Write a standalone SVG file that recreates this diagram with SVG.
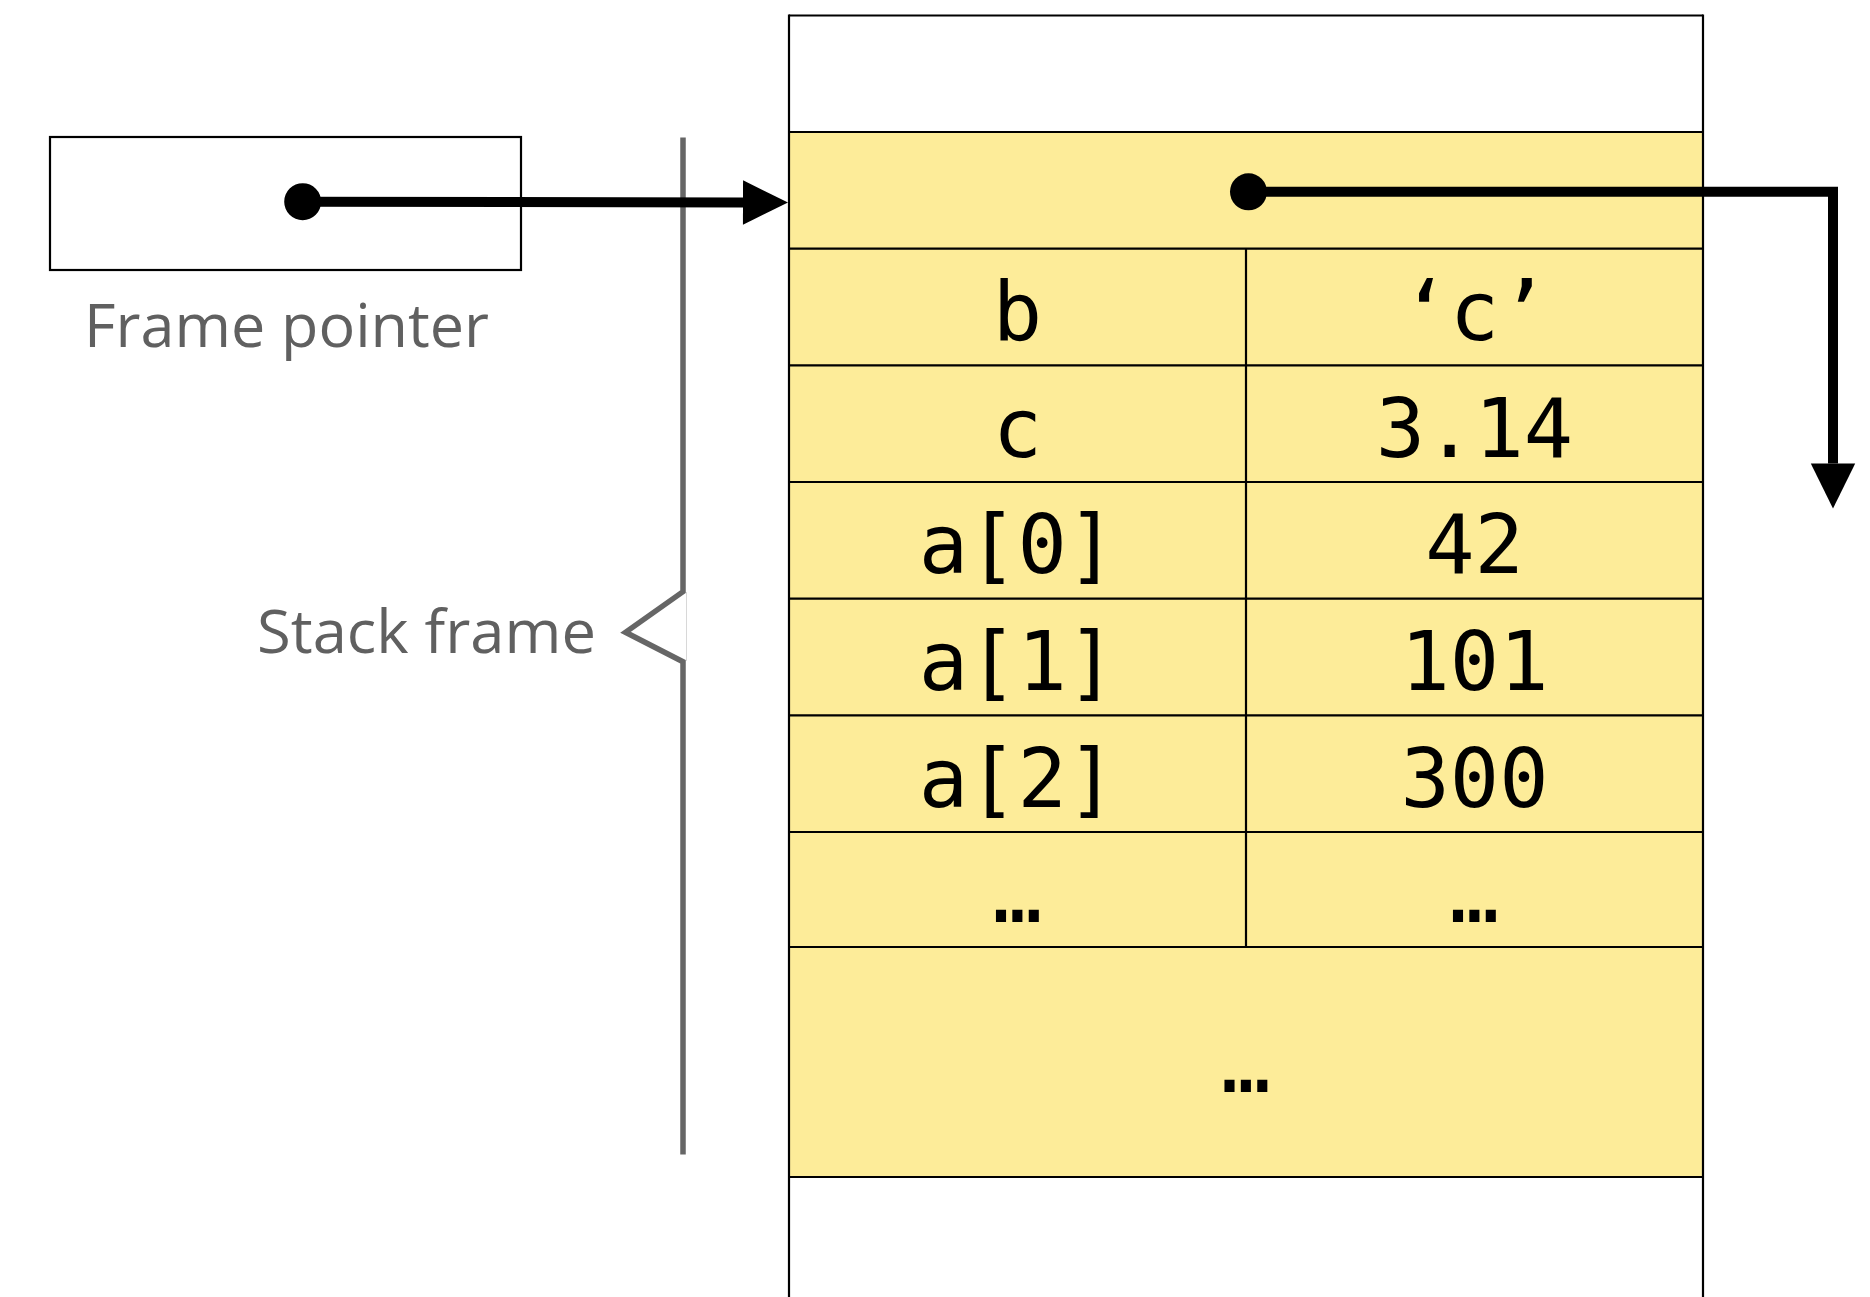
<svg xmlns="http://www.w3.org/2000/svg" width="1870" height="1297" viewBox="0 0 1870 1297">
<style>
.cell{fill:#FDEC99;stroke:none}
.grid{stroke:#000;stroke-width:2.2;fill:none}
.mono{font-family:"DejaVu Sans Mono","Liberation Mono",monospace;font-size:82px;fill:#000;text-anchor:middle}
.label{font-family:"Open Sans","Liberation Sans",sans-serif;font-size:61px;fill:#606060}
.ptr{stroke:#000;stroke-width:10;fill:none;stroke-linejoin:miter}
</style>
<defs>
<marker id="dot" markerUnits="userSpaceOnUse" markerWidth="40" markerHeight="40" refX="20" refY="20" orient="auto" overflow="visible">
<circle cx="20" cy="20" r="18.5" fill="#000"/>
</marker>
<marker id="arrow" markerUnits="userSpaceOnUse" markerWidth="46" markerHeight="46" refX="0" refY="22.2" orient="auto" overflow="visible">
<path d="M0,0 L45,22.2 L0,44.4 Z" fill="#000"/>
</marker>
</defs>
<rect width="1870" height="1297" fill="#fff"/>

<g id="frame-pointer">
<rect x="50" y="137" width="471" height="133" fill="#fff" stroke="#000" stroke-width="2.2"/>
<text class="label" x="84" y="347" textLength="405" lengthAdjust="spacingAndGlyphs">Frame pointer</text>
</g>

<g id="stack-frame">
<path d="M683,137.5 V591.7 L625.5,632.3 L683,661.7 V1154.5" fill="none" stroke="#666" stroke-width="5.5" stroke-linejoin="miter"/>
<line x1="686.5" y1="592" x2="686.5" y2="661" stroke="#d8d8d8" stroke-width="1"/>
<text class="label" x="257" y="653" textLength="339" lengthAdjust="spacingAndGlyphs">Stack frame</text>
</g>

<g id="memory">
<rect x="789" y="132" width="914" height="1045" class="cell"/>
<g id="row-top"><line class="grid" x1="789" y1="15.5" x2="1703" y2="15.5"/></g>
<g id="row-fp"><line class="grid" x1="789" y1="132" x2="1703" y2="132"/></g>
<g id="row-b"><line class="grid" x1="789" y1="248.7" x2="1703" y2="248.7"/>
<text class="mono" x="1017.5" y="340">b</text><text class="mono" x="1474.5" y="340">‘c’</text></g>
<g id="row-c"><line class="grid" x1="789" y1="365.4" x2="1703" y2="365.4"/>
<text class="mono" x="1017.5" y="456.7">c</text><text class="mono" x="1474.5" y="456.7">3.14</text></g>
<g id="row-a0"><line class="grid" x1="789" y1="482" x2="1703" y2="482"/>
<text class="mono" x="1017.5" y="573">a[0]</text><text class="mono" x="1474.5" y="573">42</text></g>
<g id="row-a1"><line class="grid" x1="789" y1="598.7" x2="1703" y2="598.7"/>
<text class="mono" x="1017.5" y="690">a[1]</text><text class="mono" x="1474.5" y="690">101</text></g>
<g id="row-a2"><line class="grid" x1="789" y1="715.4" x2="1703" y2="715.4"/>
<text class="mono" x="1017.5" y="806.7">a[2]</text><text class="mono" x="1474.5" y="806.7">300</text></g>
<g id="row-more"><line class="grid" x1="789" y1="832" x2="1703" y2="832"/>
<text class="mono" x="1017.5" y="922">…</text><text class="mono" x="1474.5" y="922">…</text></g>
<g id="row-rest"><line class="grid" x1="789" y1="947" x2="1703" y2="947"/>
<text class="mono" x="1246" y="1092">…</text></g>
<line class="grid" x1="789" y1="1177" x2="1703" y2="1177"/>
<line class="grid" x1="1246" y1="248.7" x2="1246" y2="947"/>
<line class="grid" x1="789" y1="14.5" x2="789" y2="1297"/>
<line class="grid" x1="1703" y1="14.5" x2="1703" y2="1297"/>
</g>

<g id="connectors">
<path class="ptr" d="M302.7,201.7 L743,202.5" marker-start="url(#dot)" marker-end="url(#arrow)"/>
<path class="ptr" d="M1248.5,191.8 H1833 V463.5" marker-start="url(#dot)" marker-end="url(#arrow)"/>
</g>
</svg>
